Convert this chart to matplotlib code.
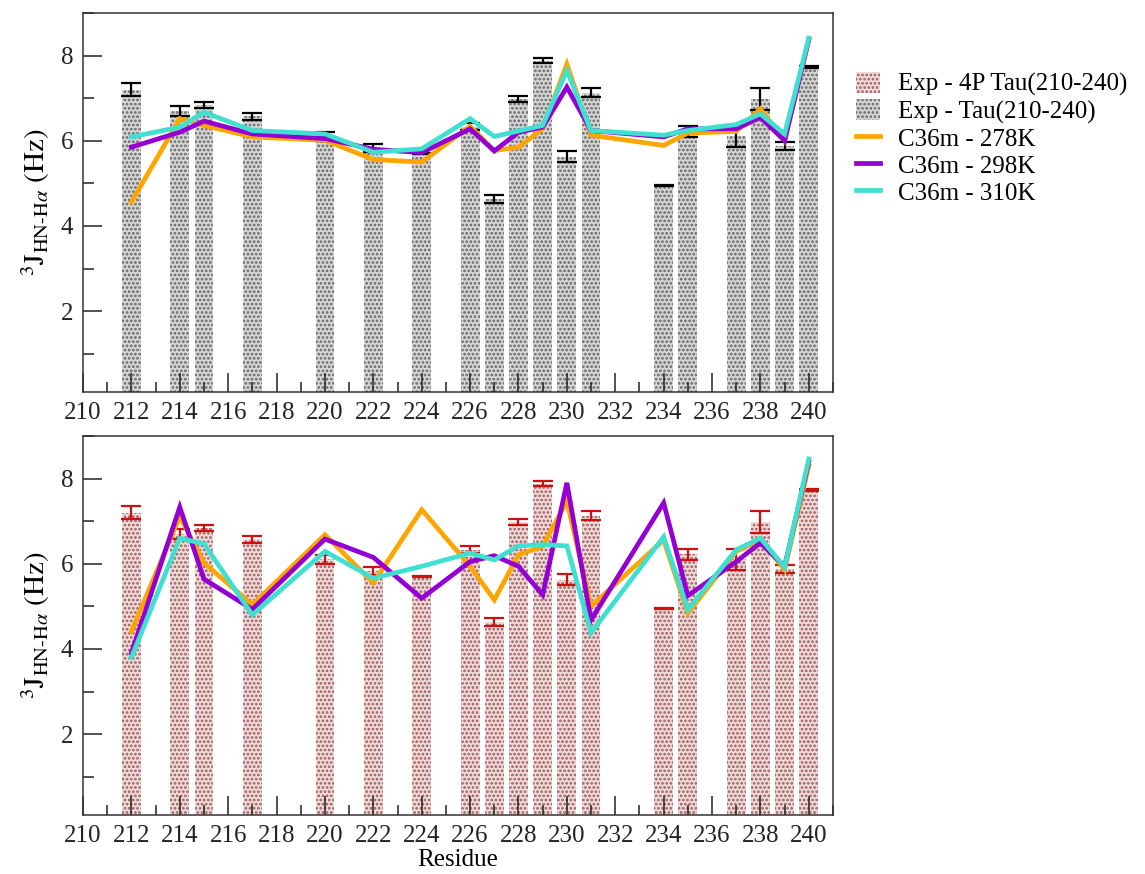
import matplotlib
matplotlib.use("Agg")
import matplotlib.pyplot as plt
from matplotlib.ticker import MultipleLocator

plt.rcParams['font.family'] = ['Liberation Serif', 'DejaVu Serif']
plt.rcParams['mathtext.fontset'] = 'stix'
plt.rcParams['hatch.linewidth'] = 1.3

residues = [212, 214, 215, 217, 220, 222, 224, 226, 227, 228, 229, 230, 231, 234, 235, 237, 238, 239, 240]

# Experimental data
exp_tau = [7.20, 6.70, 6.84, 6.57, 6.10, 5.83, 5.71, 6.33, 4.63, 6.98, 7.88, 5.63, 7.13, 4.95, 6.22, 6.10, 6.98, 5.87, 7.73]
exp_tau_err = [0.15, 0.12, 0.07, 0.08, 0.10, 0.09, 0.01, 0.08, 0.09, 0.07, 0.06, 0.13, 0.11, 0.01, 0.13, 0.25, 0.25, 0.09, 0.03]
exp_4p = [7.20, 6.70, 6.84, 6.57, 6.10, 5.83, 5.71, 6.33, 4.63, 6.98, 7.88, 5.63, 7.13, 4.95, 6.22, 6.10, 6.98, 5.87, 7.73]
exp_4p_err = [0.15, 0.12, 0.07, 0.08, 0.10, 0.09, 0.01, 0.08, 0.09, 0.07, 0.06, 0.13, 0.11, 0.01, 0.13, 0.25, 0.25, 0.09, 0.03]

# Simulations, Tau(210-240) (top panel)
tau_278 = [4.56, 6.52, 6.36, 6.09, 6.01, 5.56, 5.50, 6.34, 5.77, 5.85, 6.28, 7.80, 6.13, 5.89, 6.18, 6.22, 6.75, 6.00, 8.38]
tau_298 = [5.85, 6.20, 6.46, 6.16, 6.05, 5.80, 5.72, 6.28, 5.76, 6.20, 6.32, 7.26, 6.24, 6.09, 6.28, 6.28, 6.55, 6.00, 8.38]
tau_310 = [6.09, 6.32, 6.67, 6.24, 6.16, 5.73, 5.81, 6.52, 6.10, 6.23, 6.36, 7.65, 6.24, 6.13, 6.24, 6.38, 6.63, 6.16, 8.41]

# Simulations, 4P Tau(210-240) (bottom panel)
p4_278 = [4.41, 7.11, 6.02, 5.04, 6.68, 5.55, 7.27, 5.94, 5.15, 6.21, 6.41, 7.47, 5.00, 6.56, 4.84, 6.29, 6.56, 5.86, 8.30]
p4_298 = [3.90, 7.33, 5.64, 4.93, 6.58, 6.15, 5.19, 6.05, 6.19, 5.94, 5.27, 7.90, 4.68, 7.43, 5.25, 6.05, 6.49, 5.94, 8.40]
p4_310 = [3.80, 6.60, 6.47, 4.80, 6.29, 5.66, 5.94, 6.25, 6.09, 6.42, 6.45, 6.42, 4.38, 6.63, 4.92, 6.33, 6.60, 5.92, 8.46]

labels_exp = ['Exp - 4P Tau(210-240)', 'Exp - Tau(210-240)']
labels_sim = ['C36m - 278K', 'C36m - 298K', 'C36m - 310K']
colors_sim = ['#FFA500', '#9400D3', '#40E0D0']
xticks = list(range(210, 241, 2))

FS = 18

fig = plt.figure(figsize=(11.45, 8.74), dpi=100)
ax1 = fig.add_axes([83/1145, 1-392/874, 750/1145, 379/874])
ax2 = fig.add_axes([83/1145, 1-815/874, 750/1145, 379/874])


def draw(ax, vals, errs, face, dot, errc, sims):
    bars = ax.bar(residues, vals, width=0.78, bottom=0, color=face, edgecolor=dot,
                  linewidth=0, hatch='....', zorder=1)
    ax.errorbar(residues, vals, yerr=errs, fmt='none', ecolor=errc, elinewidth=1.6,
                capsize=7, capthick=1.6, zorder=1.5)
    lines = []
    for s, c, lab in zip(sims, colors_sim, labels_sim):
        ln, = ax.plot(residues, s, color=c, lw=3.4, solid_joinstyle='miter', zorder=2, label=lab)
        lines.append(ln)
    ax.set_xlim(210, 241)
    ax.set_ylim(0.1, 9)
    ax.set_xticks(xticks)
    ax.xaxis.set_minor_locator(MultipleLocator(1))
    ax.set_yticks([2, 4, 6, 8])
    ax.yaxis.set_minor_locator(MultipleLocator(1))
    ax.tick_params(which='both', direction='in', labelsize=FS, width=1.1, colors='#222222')
    ax.tick_params(which='major', length=14, pad=7)
    ax.tick_params(which='minor', length=7)
    ax.tick_params(axis='y', which='minor', length=8)
    for sp in ax.spines.values():
        sp.set_linewidth(1.1)
        sp.set_color('#333333')
    ax.set_ylabel(r'$^{3}\mathrm{J}_{\mathrm{HN\text{-}H}\alpha}\ \mathrm{(Hz)}$', fontsize=FS + 3, labelpad=6)
    return bars, lines


bars_tau, lines_top = draw(ax1, exp_tau, exp_tau_err, '#d6d6d6', '#646464', 'black',
                           [tau_278, tau_298, tau_310])
bars_4p, _ = draw(ax2, exp_4p, exp_4p_err, '#f0dada', '#9a5a5a', '#d01010',
                  [p4_278, p4_298, p4_310])
ax2.set_xlabel('Residue', fontsize=FS, labelpad=2)

handles = [bars_4p, bars_tau] + lines_top
fig.legend(handles, labels_exp + labels_sim, loc='upper left',
           bbox_to_anchor=(846/1145, 1-62/874), frameon=False, fontsize=FS,
           handlelength=0.95, handleheight=0.9, handletextpad=0.75, labelspacing=0.12,
           borderaxespad=0)

fig.savefig('out.png', dpi=100)
